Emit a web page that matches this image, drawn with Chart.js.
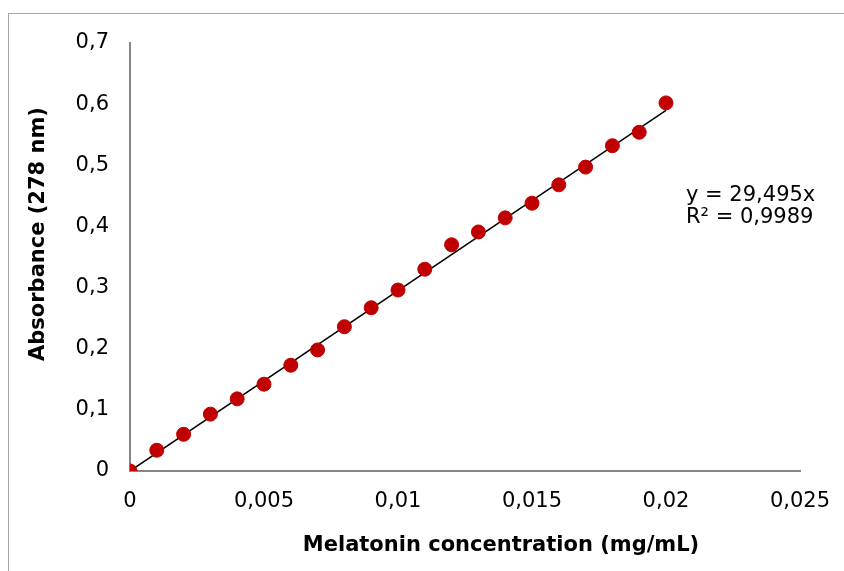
<!DOCTYPE html>
<html>
<head>
<meta charset="utf-8">
<script src="https://cdn.jsdelivr.net/npm/chart.js@4/dist/chart.umd.min.js"></script>
<style>
  html, body { margin: 0; padding: 0; background: #fff; }
  #wrap { width: 844px; height: 571px; }
</style>
</head>
<body>
<div id="wrap"><canvas id="calChart" width="844" height="571"></canvas></div>
<script>
// concentrations (mg/mL) and measured absorbance at 278 nm
const concentrations = [0, 0.001, 0.002, 0.003, 0.004, 0.005, 0.006, 0.007, 0.008, 0.009, 0.010,
                        0.011, 0.012, 0.013, 0.014, 0.015, 0.016, 0.017, 0.018, 0.019, 0.020];
const absorbance = [0, 0.034, 0.060, 0.093, 0.118, 0.142, 0.173, 0.198, 0.236, 0.267, 0.296,
                    0.330, 0.370, 0.391, 0.414, 0.438, 0.468, 0.497, 0.532, 0.554, 0.602];

// linear trendline through the origin (y = 29,495x)
const trendX = [0, 0.020];
const trendY = [0, 0.590];

const equationLines = ["y = 29,495x", "R² = 0,9989"];
const xTitle = "Melatonin concentration (mg/mL)";
const yTitle = "Absorbance (278 nm)";

const comma = (v, d) => Number(v.toFixed(d)).toString().replace(".", ",");

// outer frame of the chart object
const framePlugin = {
  id: "frame",
  beforeDraw(chart) {
    const c = chart.ctx;
    c.save();
    c.strokeStyle = "#a6a6a6";
    c.lineWidth = 1;
    c.strokeRect(8.5, 13.5, 1000, 1000);
    c.restore();
  }
};

// axis titles + trendline equation (Excel puts the titles off-centre)
const textPlugin = {
  id: "texts",
  afterDraw(chart) {
    const c = chart.ctx;
    c.save();
    c.fillStyle = "#000";
    c.textAlign = "center";
    c.textBaseline = "middle";
    c.font = "bold 21px 'DejaVu Sans'";
    c.fillText(xTitle, 501, 546);
    c.translate(39, 234);
    c.rotate(-Math.PI / 2);
    c.fillText(yTitle, 0, 0);
    c.setTransform(1, 0, 0, 1, 0, 0);
    c.textAlign = "left";
    c.font = "21px 'DejaVu Sans'";
    equationLines.forEach((t, i) => c.fillText(t, 686, 196 + i * 22));
    c.restore();
  }
};

const points = concentrations.map((x, i) => ({ x: x, y: absorbance[i] }));
const trend = trendX.map((x, i) => ({ x: x, y: trendY[i] }));

new Chart(document.getElementById("calChart"), {
  type: "scatter",
  data: {
    datasets: [
      {
        type: "line",
        data: trend,
        borderColor: "#000",
        borderWidth: 1.5,
        pointRadius: 0,
        fill: false,
        order: 2
      },
      {
        data: points,
        backgroundColor: "#c00000",
        borderColor: "#c00000",
        pointRadius: 7,
        pointHoverRadius: 7,
        order: 1
      }
    ]
  },
  options: {
    responsive: false,
    animation: false,
    layout: { padding: { top: 43, right: 44, left: 0, bottom: 0 } },
    plugins: {
      legend: { display: false },
      tooltip: { enabled: false }
    },
    scales: {
      x: {
        type: "linear",
        min: 0,
        max: 0.025,
        grid: { display: false },
        border: { display: true, color: "#868686", width: 2 },
        ticks: {
          stepSize: 0.005,
          padding: 10,
          color: "#000",
          font: { family: "DejaVu Sans", size: 21 },
          maxRotation: 0,
          callback: v => comma(v, 3)
        },
        afterFit: s => { s.height = 100; }
      },
      y: {
        type: "linear",
        min: 0,
        max: 0.7,
        grid: { display: false },
        border: { display: true, color: "#868686", width: 2 },
        ticks: {
          stepSize: 0.1,
          padding: 13,
          color: "#000",
          font: { family: "DejaVu Sans", size: 21 },
          callback: v => comma(v, 1)
        },
        afterFit: s => { s.width = 130; }
      }
    }
  },
  plugins: [framePlugin, textPlugin]
});
</script>
</body>
</html>
